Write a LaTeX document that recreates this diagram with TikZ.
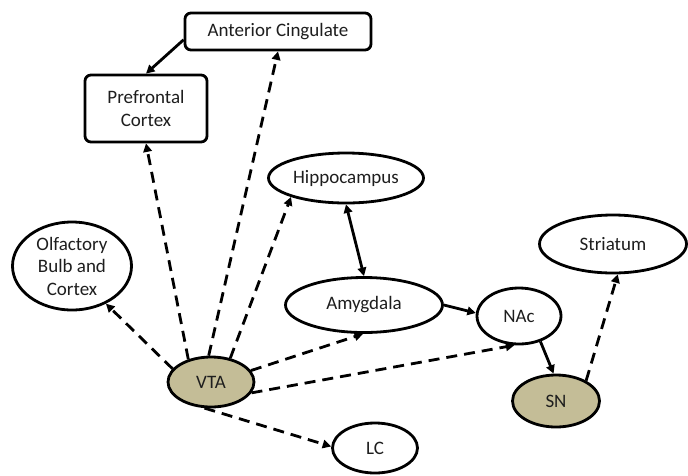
\documentclass[tikz,border=0pt]{standalone}
\usepackage{fontspec}
\setmainfont{Carlito}
\usetikzlibrary{shapes.geometric,arrows.meta}
\definecolor{nucleus}{RGB}{196,189,151}
\definecolor{labeltext}{RGB}{30,30,30}
\begin{document}
\begin{tikzpicture}[x=1pt,y=-1pt,
  every node/.style={font=\fontsize{19}{23.5}\selectfont, text=labeltext, align=center, inner sep=0pt},
  region/.style={draw=black, line width=2.8pt, ellipse, fill=white},
  dopa/.style={region, fill=nucleus},
  cortexbox/.style={draw=black, line width=2.8pt, rounded corners=6pt, rectangle, fill=white},
  tip/.style={-{Triangle[length=8.5pt,width=8.5pt]}},
  proj/.style={tip, line width=2.8pt, black},
  dproj/.style={proj, dash pattern=on 11pt off 7pt}
]
\useasboundingbox (0,0) rectangle (688,475);

% regions
\node[cortexbox, minimum width=186pt, minimum height=37pt] (ac) at (278,31.5) {Anterior Cingulate};
\node[cortexbox, minimum width=122pt, minimum height=67pt] (pfc) at (146,108.5) {Prefrontal\\Cortex};
\node[region, minimum width=155pt, minimum height=50pt] (hip) at (346,178) {Hippocampus};
\node[region, minimum width=119pt, minimum height=88pt, font=\fontsize{19}{22.5}\selectfont] (olf) at (72,266) {Olfactory\\Bulb and\\Cortex};
\node[region, minimum width=147pt, minimum height=58pt] (str) at (613,244) {Striatum};
\node[region, minimum width=157pt, minimum height=55pt] (amy) at (364,305) {Amygdala};
\node[region, minimum width=84pt, minimum height=56pt] (nac) at (519,316) {NAc};
\node[dopa, minimum width=86pt, minimum height=50pt] (vta) at (211,382) {VTA};
\node[dopa, minimum width=87pt, minimum height=52pt] (sn) at (556,401) {SN};
\node[region, minimum width=85pt, minimum height=50pt] (lc) at (375,448) {LC};

% direct connections
\draw[proj] (ac.185) -- (pfc.north);
\draw[proj, {Triangle[length=8.5pt,width=8.5pt]}-{Triangle[length=8.5pt,width=8.5pt]}] (hip.south) -- (amy.north);
\draw[proj] (amy.east) -- (nac.176);
\draw[proj] (nac.-50) -- (sn.95);

% dopaminergic projections
\draw[dproj] (vta.135) -- (pfc.south);
\draw[dproj] (vta.95) -- (ac.south);
\draw[dproj] (vta.51) -- (hip.199);
\draw[dproj] (vta.161) -- (olf.-48);
\draw[dproj] (vta.16) -- (amy.-92);
\draw[dproj] (vta.-15) -- (nac.-99);
\draw[dproj] (vta.-104) -- (lc.178);
\draw[dproj] (sn.34) -- (str.-81);
\end{tikzpicture}
\end{document}
